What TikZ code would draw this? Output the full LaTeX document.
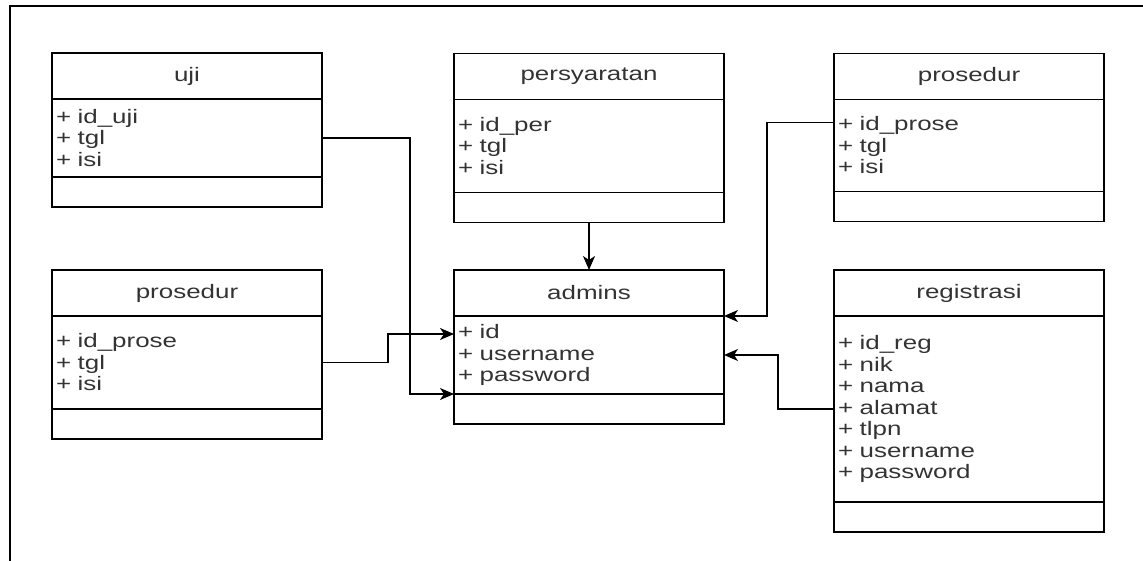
\documentclass[tikz,border=0pt]{standalone}
\usepackage{fontspec}
\setmainfont{Liberation Sans}[FakeStretch=1.33]
\usetikzlibrary{positioning,arrows.meta}

\begin{document}
\begin{tikzpicture}
        [x=1pt, y=-1pt,
        box/.style={rectangle, draw, line width=1.4pt, minimum width=270pt, outer sep=0pt, inner sep=0pt, text=black!80, font=\fontsize{19.5}{21.5}\selectfont},
        head/.style={box, minimum height=46pt},
        attrs/.style={box, text width=262pt, align=left, inner xsep=4pt},
        ops/.style={box, minimum height=30pt},
        link/.style={line width=1.4pt, -{Stealth[length=14pt, width=12pt, inset=4pt]}}]

        \useasboundingbox (0,0) rectangle (1143,561);

        % frame of the page
        \draw[line width=1.4pt] (10,561) -- (10,6) -- (1143,6);

        % top row
        \node[head] (uji) at (187,76) {uji};
        \node[attrs, minimum height=78pt, below=0pt of uji] (uji-a) {+ id\_uji\\+ tgl\\+ isi};
        \node[ops, below=0pt of uji-a] (uji-m) {};

        \node[head] (per) at (589,76.5) {persyaratan};
        \node[attrs, minimum height=93pt, below=0pt of per] (per-a) {+ id\_per\\+ tgl\\+ isi};
        \node[ops, below=0pt of per-a] (per-m) {};

        \node[head] (pro2) at (969,76.5) {prosedur};
        \node[attrs, minimum height=92pt, below=0pt of pro2] (pro2-a) {+ id\_prose\\+ tgl\\+ isi};
        \node[ops, below=0pt of pro2-a] (pro2-m) {};

        % bottom row
        \node[head] (pro1) at (187,293) {prosedur};
        \node[attrs, minimum height=93pt, below=0pt of pro1] (pro1-a) {+ id\_prose\\+ tgl\\+ isi};
        \node[ops, below=0pt of pro1-a] (pro1-m) {};

        \node[head] (admins) at (589,293) {admins};
        \node[attrs, minimum height=78pt, below=0pt of admins] (admins-a) {+ id\\+ username\\+ password};
        \node[ops, below=0pt of admins-a] (admins-m) {};

        \node[head] (reg) at (969,293) {registrasi};
        \node[attrs, minimum height=186pt, below=0pt of reg] (reg-a) {+ id\_reg\\+ nik\\+ nama\\+ alamat\\+ tlpn\\+ username\\+ password};
        \node[ops, below=0pt of reg-a] (reg-m) {};

        % row ends used by the links
        \coordinate (admins-id) at ([yshift=-18pt]admins-a.north west);
        \coordinate (pro2-id) at ([yshift=-23pt]pro2-a.north west);

        % links into admins
        \draw[link] (uji-a.east) -- ++(88,0) |- (admins-a.south west);
        \draw[link] (pro1-a.east) -- ++(66,0) |- (admins-id);
        \draw[link] (per-m.south) -- (admins.north);
        \draw[link] (pro2-id) -- ++(-67,0) |- (admins-a.north east);
        \draw[link] (reg-a.west) -- ++(-56,0) |- (admins-a.east);

\end{tikzpicture}
\end{document}
